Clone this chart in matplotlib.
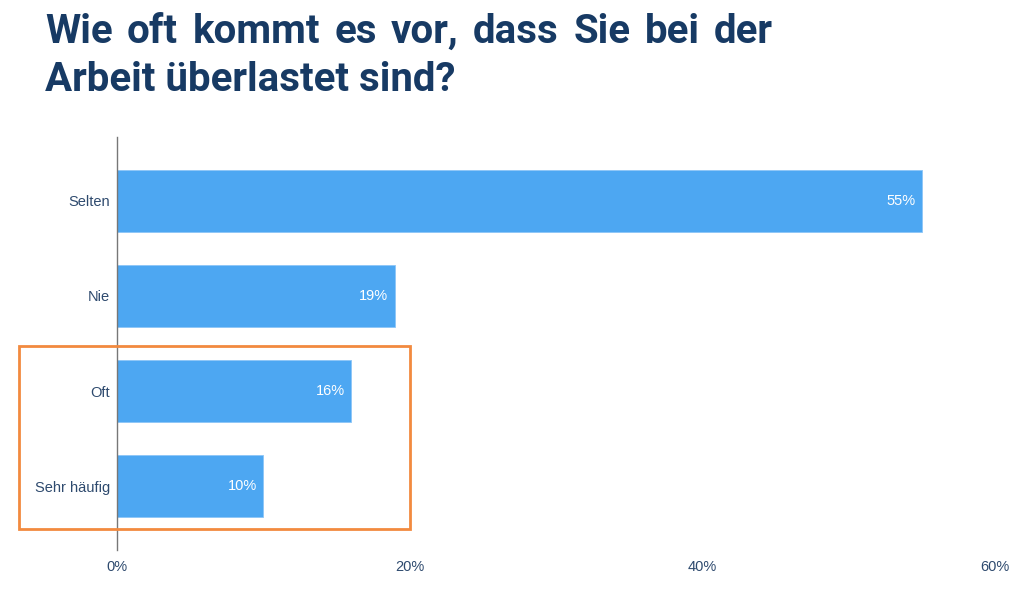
import matplotlib.pyplot as plt
from matplotlib.patches import Rectangle

# Daten
kategorien = ["Selten", "Nie", "Oft", "Sehr häufig"]
anteile = [55, 19, 16, 10]
markiert = ["Oft", "Sehr häufig"]
x_ticks = [0, 20, 40, 60]

titel_zeile1 = "Wie oft kommt es vor, dass Sie bei der"
titel_zeile2 = "Arbeit überlastet sind?"

balken_farbe = "#4da7f2"
titel_farbe = "#173a64"
text_farbe = "#2e4a6e"
rahmen_farbe = "#f28a3f"

plt.rcParams["font.family"] = ["Liberation Sans", "DejaVu Sans"]

fig = plt.figure(figsize=(10.24, 6.01), dpi=100)
ax = fig.add_axes([0.1143, 0.0849, 0.8574, 0.6872])

pos = list(range(len(kategorien)))
ax.barh(pos, anteile, height=0.65, color=balken_farbe,
        edgecolor="#8cc6f7", linewidth=0.6)

for p, v in zip(pos, anteile):
    ax.text(v - 0.45, p, f"{v}%", color="white", fontsize=10.5,
            ha="right", va="center")

ax.set_xlim(0, 60)
ax.set_ylim(len(kategorien) - 0.33, -0.67)
ax.set_xticks(x_ticks)
ax.set_xticklabels([f"{t}%" for t in x_ticks], color=text_farbe, fontsize=10.5)
ax.set_yticks(pos)
ax.set_yticklabels(kategorien, color=text_farbe, fontsize=10.5)
ax.tick_params(length=0, pad=5)
ax.tick_params(axis="x", pad=7)
for s in ["top", "right", "bottom"]:
    ax.spines[s].set_visible(False)
ax.spines["left"].set_color("#777777")
ax.spines["left"].set_linewidth(1.0)

# Markierung um die Kategorien "Oft" und "Sehr häufig"
idx = [kategorien.index(k) for k in markiert]
y0 = min(idx) - 0.47
y1 = max(idx) + 0.45
ax.add_patch(Rectangle((-6.7, y0), 20 + 6.7, y1 - y0, fill=False,
                       edgecolor=rahmen_farbe, linewidth=2.0, clip_on=False,
                       zorder=5))

# Titel: erste Zeile im Blocksatz
titel_kw = dict(fontsize=29, fontweight="bold", color=titel_farbe,
                family=["Roboto", "DejaVu Sans"])
W, H = fig.get_size_inches() * fig.dpi
links, rechts = 45, 773
woerter = titel_zeile1.split()
renderer = fig.canvas.get_renderer()
texte = [fig.text(0, 1 - 43 / H, w, ha="left", va="baseline", **titel_kw)
         for w in woerter]
breiten = [t.get_window_extent(renderer).width for t in texte]
luecke = (rechts - links - sum(breiten)) / (len(woerter) - 1)
x = links
for t, b in zip(texte, breiten):
    t.set_x(x / W)
    x += b + luecke
fig.text(links / W, 1 - 91 / H, titel_zeile2, ha="left", va="baseline",
         **titel_kw)

fig.savefig("out.png", dpi=100)
